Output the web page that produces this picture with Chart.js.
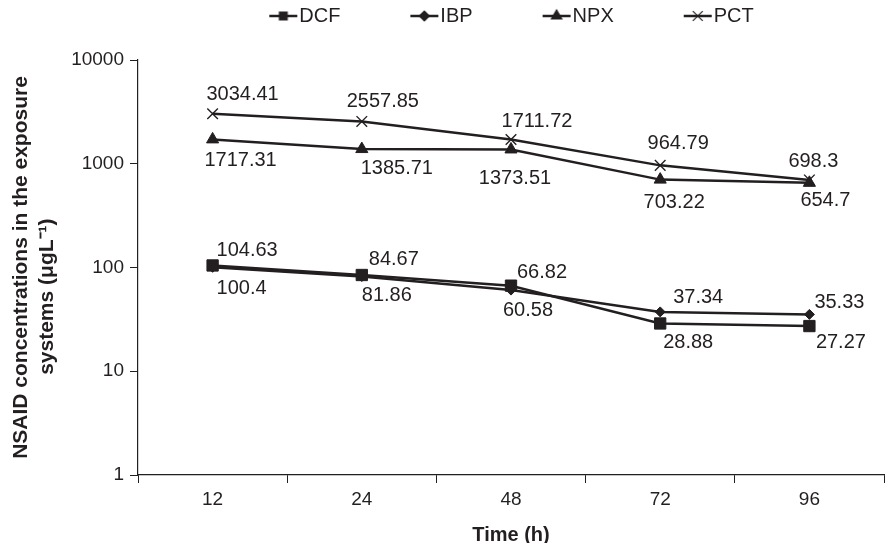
<!DOCTYPE html>
<html>
<head>
<meta charset="utf-8">
<script src="https://cdn.jsdelivr.net/npm/chart.js@4.4.1/dist/chart.umd.min.js"></script>
<style>
  html, body { margin: 0; padding: 0; background: #ffffff; overflow: hidden; }
  #wrap { width: 893px; height: 543px; }
</style>
</head>
<body>
<div id="wrap"><canvas id="c" width="893" height="543"></canvas></div>
<script>
// ---- data ----
const timeLabels = ['12', '24', '48', '72', '96'];
const seriesNames = ['DCF', 'IBP', 'NPX', 'PCT'];
const dcf = [104.63, 84.67, 66.82, 28.88, 27.27];
const ibp = [100.4, 81.86, 60.58, 37.34, 35.33];
const npx = [1717.31, 1385.71, 1373.51, 703.22, 654.7];
const pct = [3034.41, 2557.85, 1711.72, 964.79, 698.3];
const yTicks = [1, 10, 100, 1000, 10000];

// ---- style ----
const ink = '#231f20';
const FONT = "'Liberation Sans', Arial, sans-serif";
const markers = [
  { style: 'rect', r: 8, legendR: 5.5 },
  { style: 'rectRot', r: 5, legendR: 5 },
  { style: 'triangle', r: 7, legendR: 6 },
  { style: 'crossRot', r: 7.5, legendR: 7 }
];
// label offsets (dx, dy) relative to each point
const labelOffsets = [
  [[34.5, -15], [32, -15.5], [31, -12.7], [28, 19], [31.5, 16.5]],
  [[29, 21], [25, 19], [17, 20], [38, -14], [30, -12]],
  [[28, 21], [35, 19], [4, 29.5], [14, 23], [16, 17.5]],
  [[30, -19], [21, -19.5], [26, -18.5], [18, -21.5], [4, -18]]
];

function legendImg(m) {
  const c = document.createElement('canvas');
  c.width = 104; c.height = 20;
  const g = c.getContext('2d');
  g.strokeStyle = ink; g.fillStyle = ink;
  g.lineWidth = 2.5;
  g.beginPath(); g.moveTo(74, 10); g.lineTo(102, 10); g.stroke();
  g.lineWidth = 1.2;
  Chart.helpers.drawPoint(g, { pointStyle: m.style, radius: m.legendR, rotation: 0, borderWidth: 1.2 }, 88, 10);
  return c;
}
const legendImgs = markers.map(legendImg);

const allSeries = [dcf, ibp, npx, pct];
const datasets = allSeries.map((vals, i) => ({
  label: seriesNames[i],
  data: vals,
  borderColor: ink,
  backgroundColor: ink,
  borderWidth: 2.5,
  tension: 0,
  pointStyle: markers[i].style,
  pointRadius: markers[i].r,
  pointHoverRadius: markers[i].r,
  pointBorderWidth: i === 3 ? 1.4 : 1,
  pointBackgroundColor: ink,
  pointBorderColor: ink,
  fill: false
}));

const valueLabels = {
  id: 'valueLabels',
  afterDatasetsDraw(chart) {
    const ctx = chart.ctx;
    ctx.save();
    ctx.font = '20px ' + FONT;
    ctx.fillStyle = ink;
    ctx.textAlign = 'center';
    ctx.textBaseline = 'middle';
    chart.data.datasets.forEach((ds, di) => {
      const meta = chart.getDatasetMeta(di);
      meta.data.forEach((pt, pi) => {
        const off = labelOffsets[di][pi];
        ctx.fillText(String(ds.data[pi]), pt.x + off[0], pt.y + off[1]);
      });
    });
    ctx.restore();
  }
};

const legendPos = {
  id: 'legendPos',
  afterLayout(chart) {
    const lg = chart.legend;
    if (lg) {
      const dy = -lg.top;
      lg.top += dy; lg.bottom += dy;
      lg.left += 33; lg.right += 33;
    }
  }
};

new Chart(document.getElementById('c'), {
  type: 'line',
  data: { labels: timeLabels, datasets },
  options: {
    responsive: false,
    animation: false,
    devicePixelRatio: 1,
    layout: { padding: 0 },
    plugins: {
      tooltip: { enabled: false },
      legend: {
        position: 'top',
        labels: {
          usePointStyle: true,
          pointStyleWidth: 84,
          padding: 6,
          color: ink,
          font: { family: FONT, size: 20 },
          generateLabels(chart) {
            const items = Chart.defaults.plugins.legend.labels.generateLabels(chart);
            return items.map((it) => Object.assign(it, { pointStyle: legendImgs[it.datasetIndex] }));
          }
        }
      }
    },
    scales: {
      x: {
        type: 'category',
        offset: true,
        grid: { display: true, offset: true, drawOnChartArea: false, drawTicks: true, tickLength: 8, color: ink, lineWidth: 1 },
        border: { display: true, color: ink, width: 1.2 },
        ticks: { color: ink, font: { family: FONT, size: 19 }, padding: 5, maxRotation: 0 },
        title: { display: true, text: 'Time (h)', color: ink, font: { family: FONT, size: 20, weight: 'bold', lineHeight: 1 }, padding: { top: 0, bottom: -2 } },
        afterFit(scale) { scale.height = 68; }
      },
      y: {
        type: 'logarithmic',
        min: 1,
        max: 10000,
        afterBuildTicks(scale) { scale.ticks = yTicks.map(v => ({ value: v, major: true })); },
        grid: { display: true, drawOnChartArea: false, drawTicks: true, tickLength: 8, color: ink, lineWidth: 1 },
        border: { display: true, color: ink, width: 1.2 },
        ticks: { color: ink, font: { family: FONT, size: 19 }, padding: 6, callback: (v) => String(v) },
        title: {
          display: true,
          text: ['NSAID concentrations in the exposure', 'systems (μgL⁻¹)          '],
          color: ink,
          font: { family: FONT, size: 21, weight: 'bold', lineHeight: 1.238 },
          padding: { top: 8, bottom: 0 }
        },
        afterFit(scale) { scale.width = 138; scale.paddingTop = 60; }
      }
    }
  },
  plugins: [valueLabels, legendPos]
});
</script>
</body>
</html>
